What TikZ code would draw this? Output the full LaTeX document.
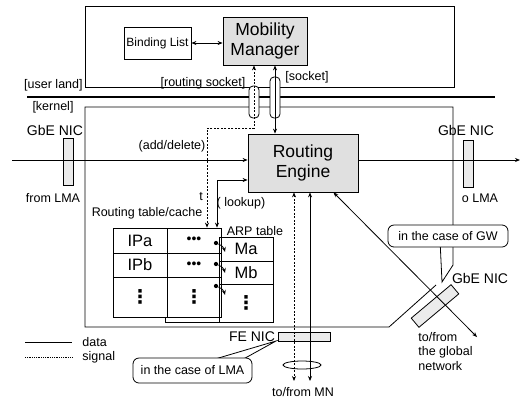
\documentclass[tikz,border=0pt]{standalone}
\usepackage{fontspec}
\setmainfont{Liberation Sans}
\newfontfamily\symfont{DejaVu Sans}
\usetikzlibrary{arrows.meta}

\begin{document}
\begin{tikzpicture}[x=1pt,y=-1pt,line width=0.8pt,>={Stealth[length=5pt,width=4pt]},
  box node/.style={draw,fill=black!12,align=center,inner sep=0pt,font=\fontsize{17.5}{20.5}\selectfont},
  nic node/.style={draw,fill=black!8,inner sep=0pt},
  tube node/.style={draw,fill=white,rounded corners=4pt,minimum width=10pt,inner sep=0pt},
  cell node/.style={draw,minimum width=54pt,inner sep=0pt,font=\fontsize{16.5}{18}\selectfont},
  dots node/.style={cell node,font=\symfont\bfseries\fontsize{19}{20}\selectfont},
  ptr node/.style={circle,fill,inner sep=1.5pt},
  text node/.style={inner sep=1pt,font=\fontsize{12.5}{14.5}\selectfont},
  nic text/.style={inner sep=1pt,font=\fontsize{14}{15}\selectfont},
  call node/.style={draw,fill=white,rounded corners=6pt,inner sep=0pt,font=\fontsize{12.5}{14}\selectfont},
  signal/.style={dash pattern=on 2pt off 1.5pt}]

  \useasboundingbox (0,0) rectangle (521,400);

  % user land / kernel
  \draw (85,6) rectangle (454,87);
  \draw[line width=1.5pt] (27,97) -- (495,97);
  \draw (453,230) -- (453,107) -- (85,107) -- (85,327) -- (389,327) -- (436,285);

  % sockets
  \node[tube node,minimum height=32pt] (rsock) at (254,102) {};
  \node[tube node,minimum height=41pt] (sock) at (275,97.5) {};

  % NICs
  \node[nic node,minimum width=10pt,minimum height=47pt] (nicl) at (68,161.5) {};
  \node[nic node,minimum width=10pt,minimum height=47pt] (nicr) at (468,163.5) {};
  \node[nic node,minimum width=52pt,minimum height=9pt] (nicf) at (304,336.5) {};
  \node[nic node,minimum width=52pt,minimum height=12pt,rotate=40] (nicg) at (435,306) {};

  \node[box node,minimum width=84pt,minimum height=48pt] (mm) at (265,41) {Mobility\\Manager};
  \node[draw,minimum width=67pt,minimum height=32pt,inner sep=0pt,font=\fontsize{12}{13}\selectfont] (bind) at (157.5,43) {Binding List};
  \node[box node,minimum width=110pt,minimum height=58pt] (re) at (303,163) {Routing\\Engine};

  % routing table / ARP table
  \node[cell node,minimum height=25pt] (ipa) at (140,240.5) {IPa};
  \node[cell node,minimum height=25pt,font=\fontsize{14}{14}\selectfont] (dota) at (194,240.5) {•••\hspace{6pt}};
  \node[cell node,minimum height=24pt] (ipb) at (140,265) {IPb};
  \node[cell node,minimum height=24pt,font=\fontsize{14}{14}\selectfont] (dotb) at (194,265) {•••\hspace{6pt}};
  \node[dots node,minimum height=40pt] (vdota) at (140,297) {⋮};
  \node[dots node,minimum height=40pt] (vdotb) at (194,297) {⋮\hspace{6pt}};
  \node[cell node,minimum height=24pt] (ma) at (246,249) {Ma};
  \node[cell node,minimum height=23pt] (mb) at (246,272.5) {Mb};
  \node[dots node,minimum height=38pt] (vdotc) at (246,303) {⋮};
  \draw (165,317) -- (165,322) -- (219,322);

  \node[ptr node] (pa) at (216,243) {};
  \node[ptr node] (pb) at (216,264) {};
  \node[ptr node] (pc) at (216,286) {};
  \coordinate (qa) at (225,252);
  \coordinate (qb) at (225,273);
  \coordinate (qc) at (225,295);
  \path
  (pa) [->] edge [bend left=25] (qa)
  (pb) [->] edge [bend left=25] (qb)
  (pc) [->] edge [bend left=25] (qc);

  % connectors
  \draw[<->] (bind.east) -- (bind.east -| mm.west);
  \draw[<->] (mm.south -| sock) -- (re.north -| sock);
  \draw[signal,<->] (mm.south -| rsock) -- ++(0,63) -| ([xshift=13pt]dota.north);
  \draw[<->] ([yshift=-17pt]re.west) -| ([xshift=23pt]dota.north);

  \coordinate (inl) at (12,160);
  \coordinate (outr) at (520,160);
  \draw[->] (inl) -- (inl -| re.west);
  \draw[->] (inl -| re.east) -- (outr);

  \draw (302,365) ellipse [x radius=19pt,y radius=4pt];
  \coordinate (mna) at (294,381);
  \coordinate (mnb) at (310,381);
  \draw[signal,<->] (re.south -| mna) -- (mna);
  \draw[<->] (re.south -| mnb) -- (mnb);

  \coordinate (net) at (477,337);
  \draw[<->] (re.-44) -- (net);

  % callouts
  \draw[fill=white] (205,362) -- (276,341) -- (238,362);
  \node[call node,minimum width=119pt,minimum height=25pt] (lma) at (192.5,370.5) {in the case of LMA};
  \draw[fill=white] (440,240) -- (442,282) -- (453,265) -- (453,240);
  \node[call node,minimum width=120pt,minimum height=22pt] (gw) at (448,236) {in the case of GW};

  % legend
  \coordinate (lga) at (25,342);
  \coordinate (lgb) at (72,342);
  \coordinate (lgc) at (25,357);
  \coordinate (lgd) at (72,357);
  \draw (lga) -- (lgb);
  \draw[densely dotted] (lgc) -- (lgd);
  \node[text node,anchor=west] (lgdata) at (81,342) {data};
  \node[text node,anchor=west] (lgsig) at (81,357) {signal};

  % labels
  \node[text node,anchor=east] (luser) at (84,85) {[user land]};
  \node[text node] (lkern) at (53,107) {[kernel]};
  \node[text node] (lrsock) at (203,83) {[routing socket]};
  \node[text node] (lsock) at (307,77) {[socket]};
  \node[nic text] (lnicl) at (55,130) {GbE NIC};
  \node[nic text] (lnicr) at (466,130) {GbE NIC};
  \node[nic text] (lnicg) at (480,278) {GbE NIC};
  \node[nic text] (lnicf) at (252,337) {FE NIC};
  \node[text node] (lfrom) at (53,198) {from LMA};
  \node[text node] (lto) at (480,198) {o LMA};
  \node[text node] (ladd) at (172,146) {(add/delete)};
  \node[text node] (lt) at (201,197) {t};
  \node[text node] (llook) at (241,203) {( lookup)};
  \node[text node] (lrt) at (147,213) {Routing table/cache};
  \node[text node] (larp) at (255,231) {ARP table};
  \node[text node] (lmn) at (303,392) {to/from MN};
  \node[text node,anchor=north west,align=left] (lnet) at (417,331) {to/from\\the global\\network};

\end{tikzpicture}
\end{document}
